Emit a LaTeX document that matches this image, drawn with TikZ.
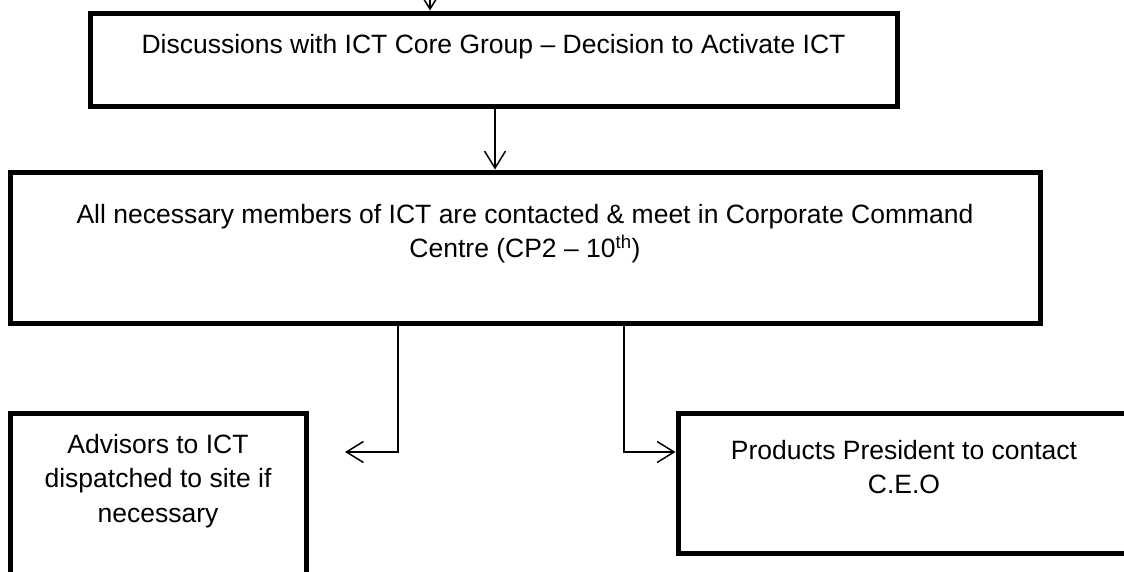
\documentclass[tikz,border=0pt]{standalone}
\usepackage{fontspec}
\setmainfont{Liberation Sans}
\usetikzlibrary{arrows.meta,positioning,calc}

% text sits near the top of each box
\newcommand{\boxtext}[4]{\parbox[c][#2pt][t]{#1pt}{\centering\vspace*{#3pt}\strut #4}}

\tikzset{
  stagebox/.style={draw, line width=5pt, inner sep=0pt},
  link/.style={line width=1.5pt, -{Straight Barb[length=17pt,width=21pt]}},
}

\begin{document}
\begin{tikzpicture}[x=1pt, y=-1pt, font=\fontsize{26.5}{34.5}\selectfont]
    \useasboundingbox (0,0) rectangle (1124,571);
    \clip (0,0) rectangle (1124,571);

    % Boxes
    \node[stagebox] (talks) at (493.5,59.5)
        {\boxtext{807}{93}{15.85}{Discussions with ICT Core Group -- Decision to Activate ICT}};
    \node[stagebox] (meet) at (525,247.5)
        {\boxtext{1030}{151}{26.85}{All necessary members of ICT are contacted \& meet in Corporate Command\\Centre (CP2 -- 10\textsuperscript{th})}};
    \node[stagebox] (advisors) at (158,503)
        {\boxtext{296}{180}{15.85}{Advisors to ICT\\dispatched to site if\\necessary}};
    \node[stagebox] (president) at (904,483)
        {\boxtext{452}{140}{21.85}{Products President to contact\\C.E.O}};

    % Connectors
    \coordinate (above) at (430,-30);
    \coordinate (advend) at (345,452);
    \draw[link] (above) -- (above |- talks.north);
    \draw[link] ([xshift=1.5pt]talks.south) -- ([xshift=-30pt]meet.north);
    \draw[link] ([xshift=-127pt]meet.south) |- (advend);
    \draw[link] ([xshift=99pt]meet.south) |- ([yshift=31pt]president.west);
\end{tikzpicture}
\end{document}
